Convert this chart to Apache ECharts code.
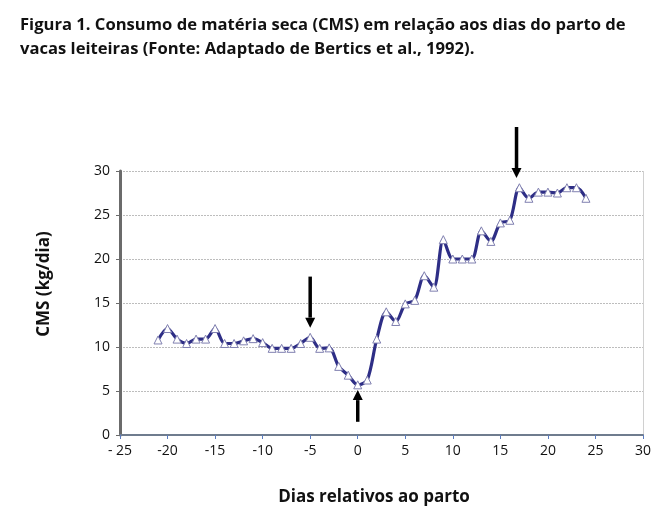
<!DOCTYPE html>
<html>
<head>
<meta charset="utf-8">
<script src="https://cdn.jsdelivr.net/npm/echarts@6/dist/echarts.min.js"></script>
<style>
  html, body { margin: 0; padding: 0; background: #fff; }
  #chart { width: 667px; height: 518px; }
</style>
</head>
<body>
<div id="chart"></div>
<script>
// dias relativos ao parto
const days = [-21, -20, -19, -18, -17, -16, -15, -14, -13, -12, -11, -10, -9, -8, -7, -6, -5, -4, -3, -2, -1,
  0, 1, 2, 3, 4, 5, 6, 7, 8, 9, 10, 11, 12, 13, 14, 15, 16, 17, 18, 19, 20, 21, 22, 23, 24]
// CMS (kg/dia)
const cms = [10.8, 12.1, 10.9, 10.4, 10.9, 10.9, 12.1, 10.4, 10.4, 10.7, 10.95, 10.5, 9.85, 9.85, 9.85, 10.4, 11.1, 9.85, 9.9, 7.8, 6.8,
  5.7, 6.25, 10.9, 14.0, 12.9, 14.9, 15.3, 18.1, 16.8, 22.2, 20.0, 20.0, 20.0, 23.2, 22.0, 24.1, 24.4, 28.1, 26.9, 27.6, 27.6, 27.5, 28.1, 28.1, 26.9]

// setas: [x, início, ponta]
const arrows = [
  [-5, 18.0, 12.2],
  [0, 1.5, 5.1],
  [16.7, 35.0, 29.2],
]

const xTickLabels = { '-25': '- 25' }

const font = '"Open Sans", sans-serif'
const chart = echarts.init(document.getElementById('chart'))

const staticGraphics = [
  {
    id: 'rightBorder',
    type: 'line',
    shape: { x1: 643.5, y1: 171, x2: 643.5, y2: 435 },
    style: { stroke: '#d0d0d0', lineWidth: 1 },
    silent: true,
  },
  {
    id: 'yName',
    type: 'text',
    x: 44,
    y: 284,
    rotation: Math.PI / 2,
    style: {
      text: 'CMS (kg/dia)',
      font: 'bold 17px "Open Sans", sans-serif',
      fill: '#111',
      align: 'center',
      verticalAlign: 'middle',
    },
  },
  {
    id: 'xName',
    type: 'text',
    x: 374,
    y: 497,
    style: {
      text: 'Dias relativos ao parto',
      font: 'bold 17px "Open Sans", sans-serif',
      fill: '#111',
      align: 'center',
      verticalAlign: 'middle',
    },
  },
]

chart.setOption({
  animation: false,
  backgroundColor: '#fff',
  textStyle: { fontFamily: font },
  title: {
    text: 'Figura 1. Consumo de matéria seca (CMS) em relação aos dias do parto de\nvacas leiteiras (Fonte: Adaptado de Bertics et al., 1992).',
    left: 15,
    top: 8,
    textStyle: { fontSize: 16.6, fontWeight: 'bold', color: '#111', lineHeight: 24, fontFamily: font },
  },
  grid: { left: 120, right: 24, top: 171, bottom: 83 },
  xAxis: {
    type: 'value',
    min: -25,
    max: 30,
    interval: 5,
    axisLine: { onZero: false, lineStyle: { color: '#6f7c8e', width: 2 } },
    axisTick: { show: true, length: 4, lineStyle: { color: '#5a7bbf' } },
    splitLine: { show: false },
    axisLabel: {
      color: '#111',
      fontSize: 14,
      margin: 9,
      formatter: (v) => xTickLabels[v] || String(v),
    },
  },
  yAxis: {
    type: 'value',
    min: 0,
    max: 30,
    interval: 5,
    axisLine: { show: true, onZero: false, lineStyle: { color: '#6b6b6b', width: 3 } },
    axisTick: { show: true, length: 4, lineStyle: { color: '#6b6b6b', width: 1 } },
    splitLine: { lineStyle: { color: '#bdbdbd', type: [2, 1], width: 1 } },
    axisLabel: { color: '#111', fontSize: 14, margin: 10 },
  },
  graphic: staticGraphics,
  series: [
    {
      type: 'line',
      data: days.map((d, i) => [d, cms[i]]),
      smooth: 0.3,
      symbol: 'triangle',
      symbolSize: 8,
      itemStyle: { color: '#fff', borderColor: '#8080b0', borderWidth: 1 },
      lineStyle: { color: '#2e2e86', width: 3.2 },
      z: 3,
    },
  ],
})

// setas desenhadas a partir das coordenadas dos eixos
const arrowGraphics = []
arrows.forEach(([x, y0, y1], i) => {
  const p0 = chart.convertToPixel({ gridIndex: 0 }, [x, y0])
  const p1 = chart.convertToPixel({ gridIndex: 0 }, [x, y1])
  const dir = p1[1] > p0[1] ? 1 : -1
  const head = 10
  arrowGraphics.push({
    id: 'arrowLine' + i,
    type: 'line',
    shape: { x1: p0[0], y1: p0[1], x2: p1[0], y2: p1[1] - dir * head },
    style: { stroke: '#000', lineWidth: 3.5 },
    z: 10,
  })
  arrowGraphics.push({
    id: 'arrowHead' + i,
    type: 'polygon',
    shape: { points: [[p1[0] - 5, p1[1] - dir * head], [p1[0] + 5, p1[1] - dir * head], [p1[0], p1[1]]] },
    style: { fill: '#000' },
    z: 10,
  })
})
chart.setOption({ graphic: staticGraphics.concat(arrowGraphics) })
</script>
</body>
</html>
